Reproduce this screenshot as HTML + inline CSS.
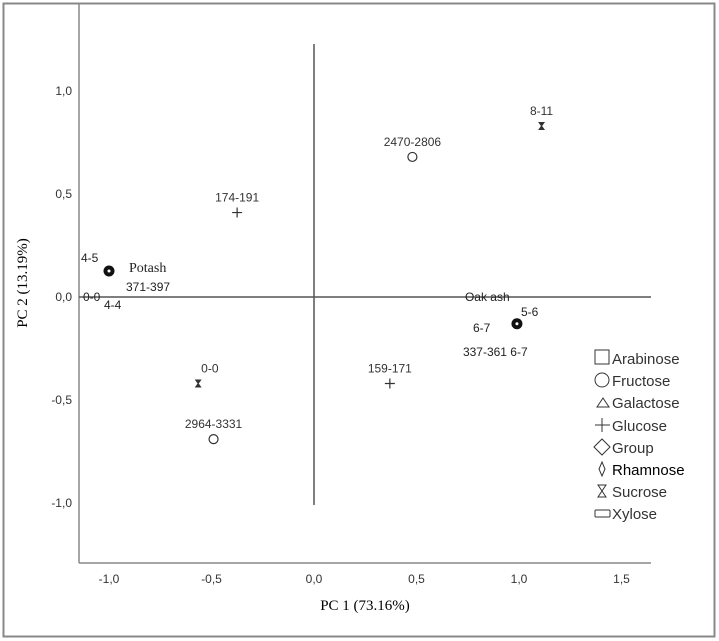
<!DOCTYPE html>
<html><head><meta charset="utf-8"><style>
body{margin:0;background:#fff;width:719px;height:641px;overflow:hidden}
svg{display:block;font-family:"Liberation Sans",sans-serif}
</style></head><body>
<svg id="chart" width="719" height="641" viewBox="0 0 719 641">
<rect x="3.5" y="3.5" width="711" height="633" fill="#fff" stroke="#888" stroke-width="2"/>
<line x1="79" y1="4" x2="79" y2="563" stroke="#888" stroke-width="1.5"/>
<line x1="79" y1="563" x2="651" y2="563" stroke="#888" stroke-width="1.5"/>
<g id="ticks"></g>
<g id="refs"></g>
<g id="points"></g>
<text x="365" y="610" font-family="Liberation Serif,serif" font-size="15" text-anchor="middle">PC 1 (73.16%)</text>
<text transform="translate(27,283) rotate(-90)" font-family="Liberation Serif,serif" font-size="15" text-anchor="middle">PC 2 (13.19%)</text>
<g font-size="15" fill="#333">
<rect x="595" y="350" width="14" height="14" fill="none" stroke="#333"/><text x="612" y="364">Arabinose</text>
<circle cx="602" cy="380" r="7" fill="none" stroke="#333"/><text x="612" y="386">Fructose</text>
<path d="M597 407 L603 398 L609 407 Z" fill="none" stroke="#333"/><text x="612" y="408">Galactose</text>
<path d="M595 425 H610 M602 418 V432" stroke="#333"/><text x="612" y="431">Glucose</text>
<path d="M594 447 L602 439 L610 447 L602 455 Z" fill="none" stroke="#333"/><text x="612" y="453">Group</text>
<path d="M602 462 L605 469 L602 476 L599 469 Z" fill="none" stroke="#333"/><text x="612" y="475" fill="#000">Rhamnose</text>
<path d="M598 485 H606 L602 491 L606 497 H598 L602 491 Z" fill="none" stroke="#333"/><text x="612" y="497">Sucrose</text>
<rect x="595" y="510" width="15" height="7" rx="1" fill="none" stroke="#333"/><text x="612" y="519">Xylose</text>
</g>
</svg>
<script>
const xTicks=[-1.0,-0.5,0.0,0.5,1.0,1.5];
const yTicks=[1.0,0.5,0.0,-0.5,-1.0];
const xTickLabels=["-1,0","-0,5","0,0","0,5","1,0","1,5"];
const yTickLabels=["1,0","0,5","0,0","-0,5","-1,0"];
const pointLabels=["8-11","2470-2806","174-191","Potash","Oak ash","159-171","0-0","2964-3331"];
const pointTypes=["sucrose","fructose","glucose","group","group","glucose","sucrose","fructose"];
const pc1=[1.11,0.48,-0.375,-1.0,0.99,0.37,-0.565,-0.49];
const pc2=[0.83,0.68,0.41,0.126,-0.13,-0.42,-0.42,-0.69];
const sx=v=>314+205*v, sy=v=>297-206*v;
const NS="http://www.w3.org/2000/svg";
function mk(tag,attrs,parent){const e=document.createElementNS(NS,tag);for(const k in attrs)e.setAttribute(k,attrs[k]);parent.appendChild(e);return e;}
const tg=document.getElementById('ticks');
xTicks.forEach((v,i)=>{const t=mk('text',{x:sx(v),y:583,'text-anchor':'middle','font-size':'12',fill:'#333'},tg);


t.textContent=xTickLabels[i];});
yTicks.forEach((v,i)=>{const t=mk('text',{x:72,y:sy(v)+4,'text-anchor':'end','font-size':'12',fill:'#333'},tg);


t.textContent=yTickLabels[i];});
const rg=document.getElementById('refs');
const hl=mk('line',{x1:79,y1:sy(0),x2:651,y2:sy(0),stroke:'#555','stroke-width':1.5},rg);


const vl=mk('line',{x1:sx(0),y1:44,x2:sx(0),y2:505,stroke:'#555','stroke-width':1.5},rg);


const pg=document.getElementById('points');
pc1.forEach((v,i)=>{const x=sx(v),y=sy(pc2[i]);const g=mk('g',{},pg);


const ty=pointTypes[i];
if(ty==='sucrose')mk('path',{d:`M${x-2.5} ${y-3.5}H${x+2.5}L${x} ${y}L${x+2.5} ${y+3.5}H${x-2.5}L${x} ${y}Z`,fill:'#333',stroke:'#333'},g);
else if(ty==='fructose')mk('circle',{cx:x,cy:y,r:4.5,fill:'none',stroke:'#333','stroke-width':1.2},g);
else if(ty==='glucose')mk('path',{d:`M${x-5} ${y}H${x+5}M${x} ${y-5}V${y+5}`,stroke:'#333','stroke-width':1.2},g);
else{mk('circle',{cx:x,cy:y,r:5.5,fill:'#111'},g);mk('circle',{cx:x,cy:y,r:1.5,fill:'#fff'},g);}
if(ty!=='group'){const t=mk('text',{x:x+(ty==='sucrose'&&v<0?3:0),y:y-11,'text-anchor':ty==='sucrose'&&v<0?'start':'middle','font-size':'12',fill:'#333'},g);t.textContent=pointLabels[i];}
});
const extra=[["Potash",sx(pc1[3])+20,sy(pc2[3])+1,"Liberation Serif,serif",14],["4-5",sx(pc1[3])-28,sy(pc2[3])-9,null,12],["371-397",sx(pc1[3])+17,sy(pc2[3])+20,null,12],["0-0",sx(pc1[3])-26,sy(pc2[3])+30,null,12],["4-4",sx(pc1[3])-5,sy(pc2[3])+38,null,12],
["Oak ash",sx(pc1[4])-52,sy(pc2[4])-23,null,12],["5-6",sx(pc1[4])+4,sy(pc2[4])-8,null,12],["6-7",sx(pc1[4])-44,sy(pc2[4])+8,null,12],["337-361 6-7",sx(pc1[4])-54,sy(pc2[4])+32,null,12]];
extra.forEach(e=>{const t=mk('text',{x:e[1],y:e[2],'font-size':e[4],fill:'#222'},pg);if(e[3])t.setAttribute('font-family',e[3]);


t.textContent=e[0];});
</script>
</body></html>
